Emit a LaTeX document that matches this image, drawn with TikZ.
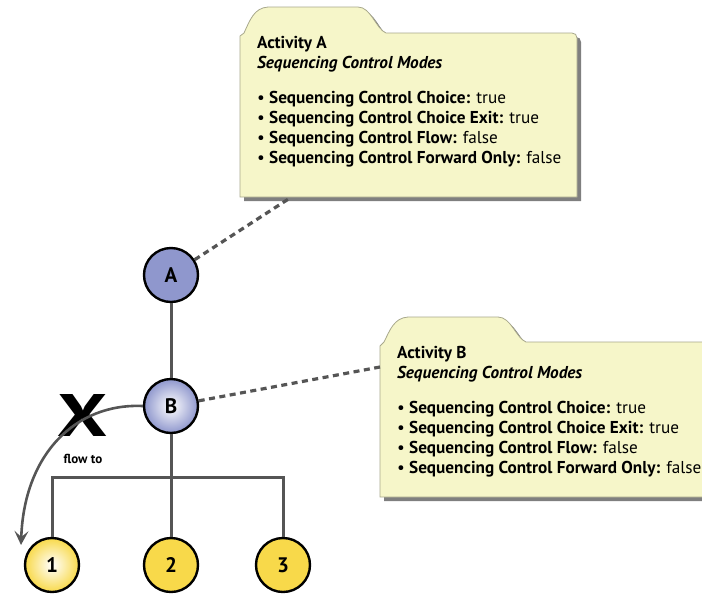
\documentclass[tikz,border=0pt]{standalone}
\usepackage{fontspec}
\setmainfont{PT Sans}
\setsansfont{PT Sans}
\usetikzlibrary{arrows.meta,calc}
\definecolor{calfill}{HTML}{F6F6C9}
\definecolor{calline}{HTML}{A8A88C}
\definecolor{shadowc}{HTML}{7F7F7F}
\definecolor{lavender}{HTML}{8F97CD}
\definecolor{yellowc}{HTML}{F8D94A}
\definecolor{linec}{HTML}{555555}
\tikzset{
  actnode/.style={circle, draw=black, line width=2.4pt, minimum size=54pt, inner sep=0pt, font=\fontsize{21}{21}\selectfont\bfseries},
  treeline/.style={draw=linec, line width=3pt},
  dashline/.style={draw=linec, line width=3.2pt, dash pattern=on 6pt off 4.5pt},
  calshape/.style={fill=calfill, draw=calline, line width=0.8pt},
  calshadow/.style={fill=shadowc},
  caltext/.style={anchor=north west, inner sep=0pt, align=left, font=\fontsize{17.2}{20}\selectfont},
  flowarrow/.style={draw=linec, line width=2.6pt, -{Stealth[length=14pt,width=14pt,inset=6pt]}}
}
\newcommand\blt{\makebox[12pt][l]{\textbullet}}
\begin{document}
\begin{tikzpicture}[x=1pt,y=-1pt]
\useasboundingbox (0,0) rectangle (702,598);
\begin{scope}
\clip (0,0) rectangle (702,598);
% callout A
\def\calA{(240,197) -- (240,36) -- (244,33) .. controls (250,20) and (254,8) .. (268,7) -- (358,7) .. controls (371,7) and (376,29) .. (386,33) -- (572,33) .. controls (575,33) and (577,35) .. (577,38) -- (577,197) -- cycle}
\fill[calshadow, shift={(4pt,-4pt)}] \calA;
\path[calshape] \calA;
\node[caltext] (tA) at (257,36) {\textbf{Activity A}\\\textbf{\textit{Sequencing Control Modes}}\\[15pt]
\blt\textbf{Sequencing Control Choice:} true\\
\blt\textbf{Sequencing Control Choice Exit:} true\\
\blt\textbf{Sequencing Control Flow:} false\\
\blt\textbf{Sequencing Control Forward Only:} false};
% callout B
\def\calB{(380,497) -- (380,346) -- (384,342) .. controls (390,330) and (394,318) .. (408,317) -- (498,317) .. controls (511,317) and (516,338) .. (526,342) -- (720,342) -- (720,497) -- cycle}
\fill[calshadow, shift={(4pt,-4pt)}] \calB;
\path[calshape] \calB;
\node[caltext] (tB) at (397,346) {\textbf{Activity B}\\\textbf{\textit{Sequencing Control Modes}}\\[15pt]
\blt\textbf{Sequencing Control Choice:} true\\
\blt\textbf{Sequencing Control Choice Exit:} true\\
\blt\textbf{Sequencing Control Flow:} false\\
\blt\textbf{Sequencing Control Forward Only:} false};
\end{scope}
% nodes
\node[actnode, fill=lavender] (A) at (171,275) {A};
\node[actnode, inner color=white, outer color=lavender] (B) at (171,406) {B};
\node[actnode, inner color=white, outer color=yellowc] (n1) at (52,565) {1};
\node[actnode, fill=yellowc] (n2) at (171,565) {2};
\node[actnode, fill=yellowc] (n3) at (283,565) {3};
\coordinate (j1) at (52,477);
\coordinate (j3) at (283,477);
\coordinate (ca) at (290,198);
\coordinate (cb) at (380,367);
\coordinate (tip) at (21,545);
% X mark
\node[inner sep=0pt, font=\fontsize{60}{60}\selectfont\bfseries] (X) at (83,415) {\scalebox{1.32}[1]{X}};
\node[inner sep=0pt, font=\fontsize{13}{13}\selectfont\bfseries] (flow) at (83,459) {flow to};
% connectors
\draw[treeline] (A) -- (B);
\draw[treeline] (B) -- (B |- j1);
\draw[treeline] (n1) -- (j1) -- (j3) -- (n3);
\draw[treeline] (n2) -- (n2 |- j1);
\draw[dashline] (A) -- (ca);
\draw[dashline] (B) -- (cb);
\draw[flowarrow] (B.west) .. controls (75,403) and (24,455) .. (tip);
\end{tikzpicture}
\end{document}
